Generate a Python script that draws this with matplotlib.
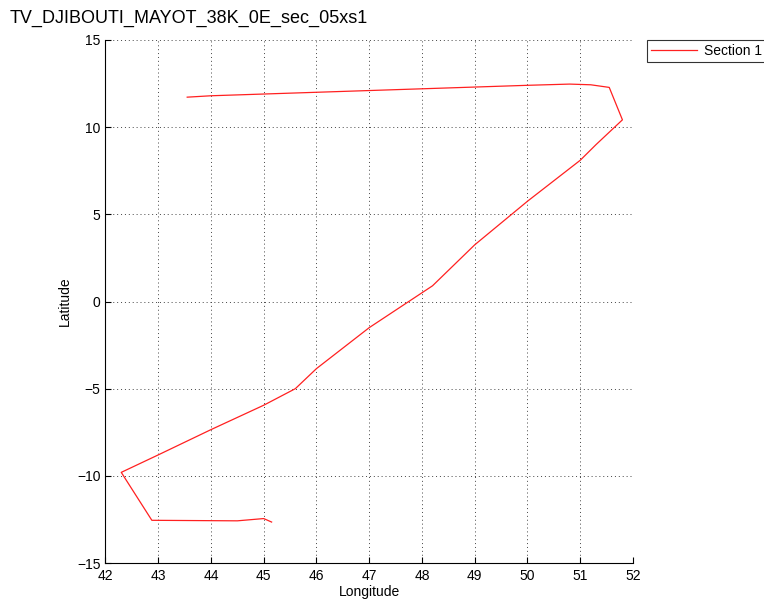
import matplotlib
matplotlib.use('Agg')
import matplotlib.pyplot as plt

# ship track, section 1 (lon / lat in degrees)
lon = [43.55, 44.0, 45.0, 46.0, 47.0, 48.0, 49.0, 50.0, 50.8, 51.2, 51.55,
       51.8, 51.3, 51.0, 50.0, 49.0, 48.2, 47.0, 46.0, 45.6, 45.0, 44.0,
       43.0, 42.3, 42.88, 44.5, 45.0, 45.15]
lat = [11.72, 11.8, 11.9, 12.0, 12.1, 12.2, 12.3, 12.4, 12.47, 12.43, 12.28,
       10.42, 9.0, 8.1, 5.75, 3.25, 0.9, -1.5, -3.85, -5.0, -5.95, -7.35,
       -8.8, -9.8, -12.55, -12.58, -12.45, -12.65]

xticks = list(range(42, 53))
yticks = list(range(-15, 16, 5))

plt.rcParams['font.family'] = ['Liberation Sans', 'DejaVu Sans']

fig = plt.figure(figsize=(7.64, 6.03), dpi=100)
ax = fig.add_axes([0.138, 0.0663, 0.6905, 0.8674])

line, = ax.plot(lon, lat, color='#ff2020', linewidth=0.9, label='Section 1')

ax.set_xlim(42, 52)
ax.set_ylim(-15, 15)
ax.set_xticks(xticks)
ax.set_yticks(yticks)
ax.tick_params(direction='in', length=4, labelsize=10, color='black')
ax.tick_params(axis='x', pad=4)
ax.grid(True, linestyle=(0, (1, 3)), color='#444444', linewidth=0.7)
ax.spines['top'].set_visible(False)
ax.spines['right'].set_visible(False)
ax.set_xlabel('Longitude', fontsize=10, labelpad=2)
ax.set_ylabel('Latitude', fontsize=10)

fig.text(10 / 764, 1 - 18 / 603, 'TV_DJIBOUTI_MAYOT_38K_0E_sec_05xs1',
         fontsize=13, va='center', ha='left')

leg = fig.legend(handles=[line], loc='upper left',
                 bbox_to_anchor=(647 / 764, 1 - 40 / 603),
                 fontsize=10, frameon=True, fancybox=False,
                 borderpad=0.3, handlelength=3.3, handletextpad=0.5,
                 borderaxespad=0)
leg.get_frame().set_edgecolor('black')
leg.get_frame().set_linewidth(0.8)

fig.savefig('out.png', dpi=100)
